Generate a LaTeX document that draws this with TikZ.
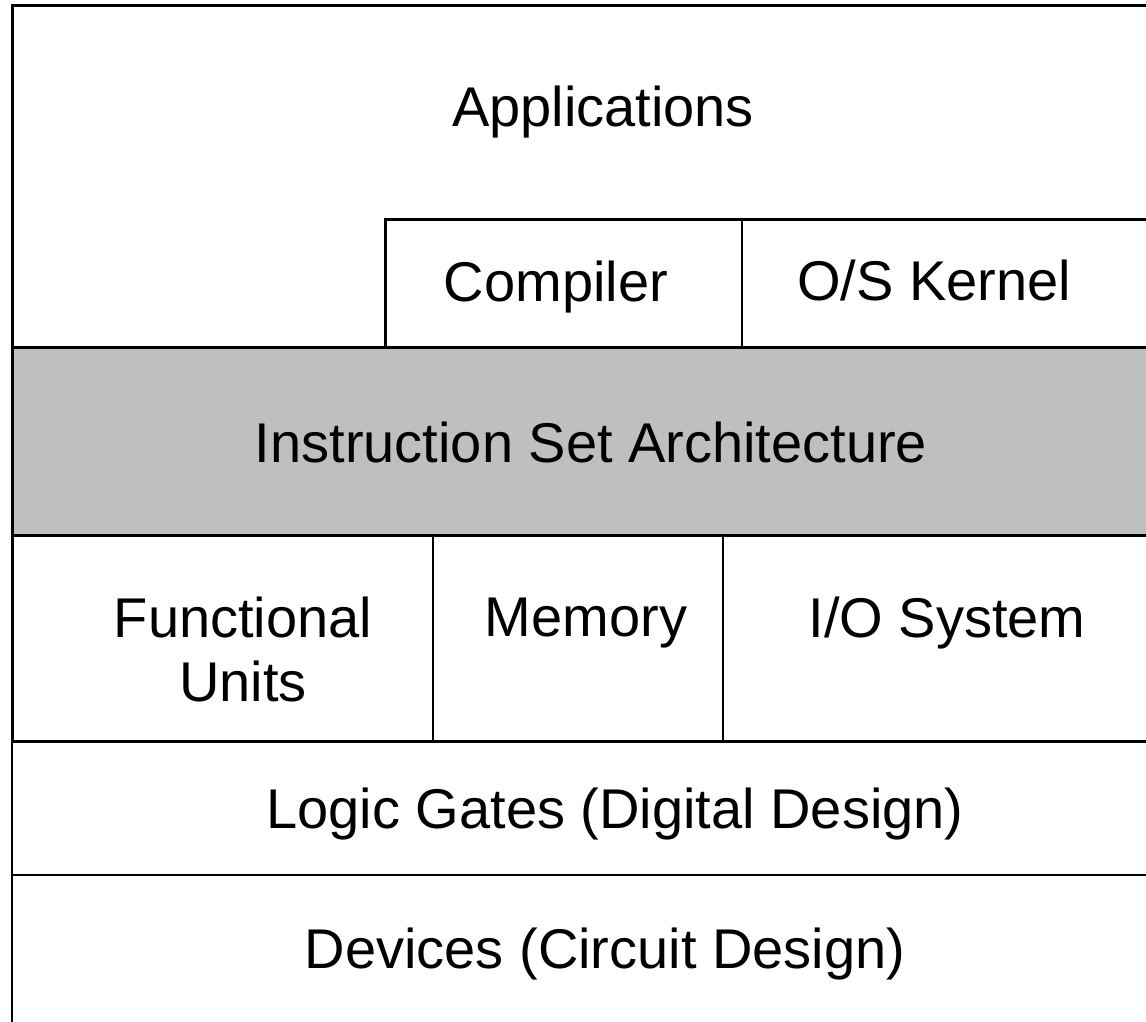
\documentclass[tikz,border=0pt]{standalone}
\usepackage{fontspec}
\setmainfont{Liberation Sans}
\begin{document}
\begin{tikzpicture}[x=1pt,y=-1pt,
  thickline/.style={line width=3pt},
  thinline/.style={line width=2pt},
  label/.style={inner sep=0pt,anchor=base,font=\fontsize{56}{64}\selectfont}]
\clip (0,0) rectangle (1146,1022);
\fill[white] (0,0) rectangle (1146,1022);
% layer bands
\fill[white] (12,6) rectangle (1170,347);
\fill[gray!50] (12,347) rectangle (1170,535);
% top level: applications with compiler and kernel boxes
\draw[thickline] (1170,6) -- (12,6) -- (12,347);
\draw[thickline] (1170,219) -- (385,219) -- (385,347);
\draw[thinline] (742,219) -- (742,347);
% instruction set band
\draw[thickline] (12,347) -- (1170,347);
\draw[thickline] (12,347) -- (12,535) -- (1170,535);
% microarchitecture row
\draw[thickline] (12,535) -- (12,741) -- (1170,741);
\draw[thinline] (433,535) -- (433,741);
\draw[thinline] (723,535) -- (723,741);
% logic and device rows
\draw[thinline] (12,741) -- (12,1040);
\draw[thinline] (12,875) -- (1170,875);
% labels
\node[label] (app) at (603,127) {Applications};
\node[label] (comp) at (556,301) {Compiler};
\node[label] (kern) at (934,300) {O/S Kernel};
\node[label] (isa) at (591,462) {Instruction Set Architecture};
\node[label] (fu1) at (243,637) {Functional};
\node[label] (fu2) at (243,701) {Units};
\node[label] (mem) at (586,636) {Memory};
\node[label] (io) at (947,637) {I/O System};
\node[label] (gates) at (615,828) {Logic Gates (Digital Design)};
\node[label] (dev) at (605,968) {Devices (Circuit Design)};
\end{tikzpicture}
\end{document}
